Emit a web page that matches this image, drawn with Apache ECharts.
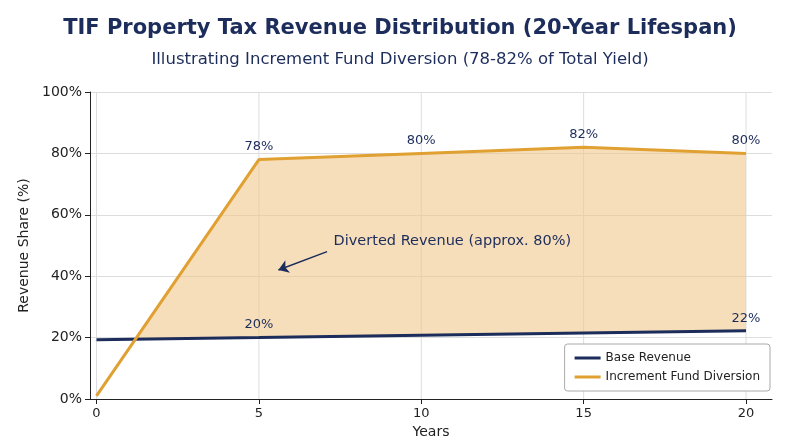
<!DOCTYPE html>
<html><head><meta charset="utf-8">
<script src="https://cdn.jsdelivr.net/npm/echarts@6/dist/echarts.min.js"></script>
<style>html,body{margin:0;padding:0;background:#fff}#chart{width:800px;height:447px}</style>
</head><body><div id="chart"></div>
<script>
const years = [0, 5, 10, 15, 20]
const baseRevenue = [19.3, 20, 20.8, 21.5, 22.2]
const incrementDiversion = [1, 78, 80, 82, 80]
const yTicks = [0, 20, 40, 60, 80, 100]

const navy = '#1c2c5b', orange = '#e0a032'
const font = 'DejaVu Sans'
const chart = echarts.init(document.getElementById('chart'))

// polygon between the two lines, starting where they cross
function bandPoints() {
    const pts = [], low = []
    for (let i = 0; i < years.length; i++) {
        if (i > 0 && incrementDiversion[i - 1] < baseRevenue[i - 1] && incrementDiversion[i] >= baseRevenue[i]) {
            const d0 = incrementDiversion[i - 1] - baseRevenue[i - 1], d1 = incrementDiversion[i] - baseRevenue[i]
            const t = d0 / (d0 - d1)
            const x = years[i - 1] + t * (years[i] - years[i - 1])
            const y = baseRevenue[i - 1] + t * (baseRevenue[i] - baseRevenue[i - 1])
            pts.push([x, y])
        }
        if (incrementDiversion[i] >= baseRevenue[i]) {
            pts.push([years[i], incrementDiversion[i]])
            low.unshift([years[i], baseRevenue[i]])
        }
    }
    return pts.concat(low)
}

const option = {
    animation: false,
    title: [
        { text: 'TIF Property Tax Revenue Distribution (20-Year Lifespan)', left: 'center', top: 13,
          textStyle: { fontFamily: font, fontSize: 21, fontWeight: 'bold', color: navy } },
        { text: 'Illustrating Increment Fund Diversion (78-82% of Total Yield)', left: 'center', top: 46,
          textStyle: { fontFamily: font, fontSize: 16.5, fontWeight: 'normal', color: navy } }
    ],
    grid: { left: 90, right: 28, top: 92, bottom: 48 },
    legend: {
        right: 30, bottom: 56, orient: 'vertical', itemGap: 7,
        backgroundColor: '#fff', borderColor: '#aaa', borderWidth: 1, borderRadius: 3, padding: [8, 10],
        icon: 'rect', itemWidth: 26, itemHeight: 3,
        textStyle: { fontFamily: font, fontSize: 12, color: '#222' },
        data: ['Base Revenue', 'Increment Fund Diversion']
    },
    xAxis: {
        type: 'value', min: -0.2, max: 20.8,
        name: 'Years', nameLocation: 'middle', nameGap: 22,
        nameTextStyle: { fontFamily: font, fontSize: 14, color: '#222' },
        axisLine: { show: true, lineStyle: { color: '#222' } },
        axisTick: { show: true, customValues: years, lineStyle: { color: '#222' } },
        axisLabel: { fontFamily: font, fontSize: 13, color: '#222', customValues: years },
        splitLine: { show: false }
    },
    yAxis: {
        type: 'value', min: 0, max: 100, interval: 20,
        name: 'Revenue Share (%)', nameLocation: 'middle', nameGap: 55,
        nameTextStyle: { fontFamily: font, fontSize: 14, color: '#222' },
        axisLine: { show: true, onZero: false, lineStyle: { color: '#222' } },
        axisTick: { show: true, lineStyle: { color: '#222' } },
        axisLabel: { fontFamily: font, fontSize: 14, color: '#222', formatter: v => yTicks.includes(v) ? v + '%' : '' },
        splitLine: { show: true, lineStyle: { color: '#ddd' } }
    },
    series: [
        {
            type: 'custom', silent: true, z: 1,
            data: [0],
            renderItem: (params, api) => {
                const lines = years.map(x => ({
                    type: 'line',
                    shape: { x1: api.coord([x, 0])[0], y1: api.coord([x, 0])[1], x2: api.coord([x, 100])[0], y2: api.coord([x, 100])[1] },
                    style: { stroke: '#ddd', lineWidth: 1 }
                }))
                return { type: 'group', children: lines.concat([{
                    type: 'polygon',
                    shape: { points: bandPoints().map(p => api.coord(p)) },
                    style: { fill: 'rgba(240,200,140,0.6)' }
                }]) }
            }
        },
        {
            name: 'Base Revenue', type: 'line', symbol: 'circle', symbolSize: 0, showSymbol: true, z: 3,
            data: years.map((x, i) => [x, baseRevenue[i]]),
            lineStyle: { color: navy, width: 3 }, itemStyle: { color: navy },
            label: { show: true, position: 'top', distance: 6, fontFamily: font, fontSize: 13, color: navy,
                     formatter: p => (p.dataIndex === 1 || p.dataIndex === 4) ? Math.round(p.value[1]) + '%' : '' }
        },
        {
            name: 'Increment Fund Diversion', type: 'line', symbol: 'circle', symbolSize: 0, showSymbol: true, z: 3,
            data: years.map((x, i) => [x, incrementDiversion[i]]),
            lineStyle: { color: orange, width: 3 }, itemStyle: { color: orange },
            label: { show: true, position: 'top', distance: 6, fontFamily: font, fontSize: 13, color: navy,
                     formatter: p => p.dataIndex > 0 ? p.value[1] + '%' : '' },
            markLine: {
                silent: true, symbol: ['none', 'arrow'], symbolSize: 10,
                lineStyle: { color: navy, width: 1.5, type: 'solid' },
                label: { show: false },
                data: [[{ coord: [7.1, 48] }, { coord: [5.6, 42] }]]
            }
        },
        {
            type: 'scatter', symbolSize: 0, silent: true, z: 5,
            data: [[7.3, 51.5]],
            itemStyle: { opacity: 1 },
            label: { show: true, position: 'right', distance: 0, formatter: 'Diverted Revenue (approx. 80%)',
                     fontFamily: font, fontSize: 14.5, color: navy, opacity: 1 }
        }
    ]
}

chart.setOption(option)
</script></body></html>
